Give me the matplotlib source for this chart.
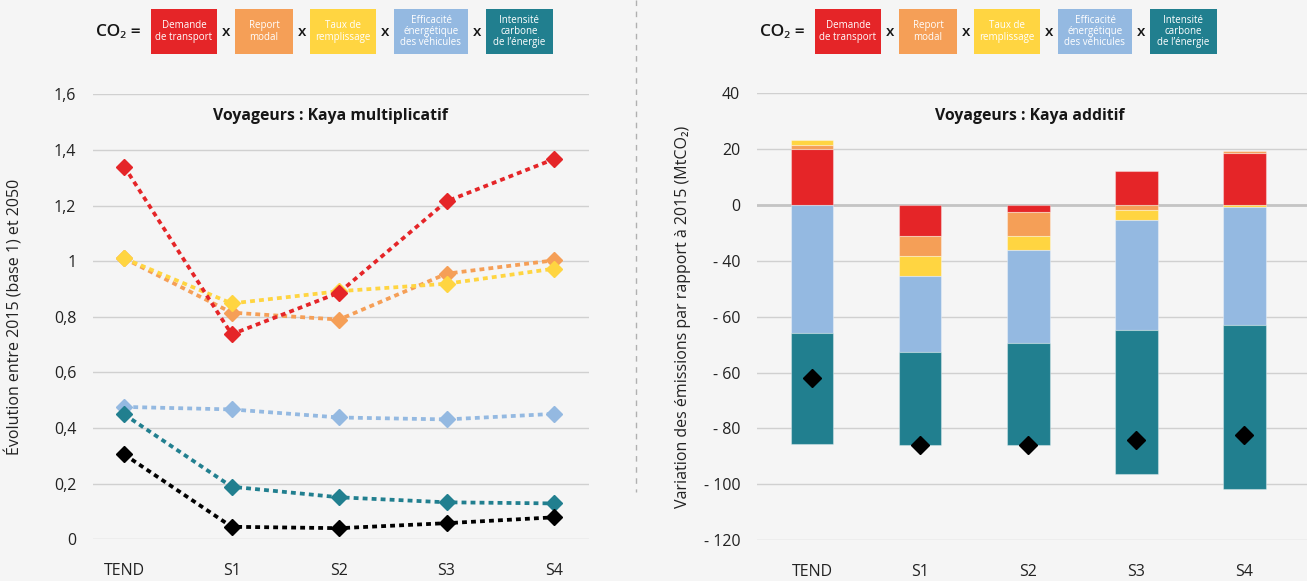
import matplotlib as mpl
import matplotlib.pyplot as plt
import numpy as np
from matplotlib.patches import Rectangle
from matplotlib.lines import Line2D

mpl.rcParams.update({
    'font.family': ['Open Sans', 'Noto Sans', 'DejaVu Sans'],
    'font.size': 11,
    'text.color': '#222222',
    'xtick.color': '#222222',
    'ytick.color': '#222222',
    'figure.facecolor': '#f5f5f5',
    'axes.facecolor': '#f5f5f5',
})

W, H = 1307, 581
BG = '#f5f5f5'
GRID = '#d0d0d0'

# ---- data -----------------------------------------------------------------
SCENARIOS = ['TEND', 'S1', 'S2', 'S3', 'S4']
FACTORS = ['Demande\nde transport', 'Report\nmodal', 'Taux de\nremplissage',
           'Efficacité\nénergétique\ndes véhicules', 'Intensité\ncarbone\nde l’énergie']
COLORS = ['#e52528', '#f59f57', '#ffd541', '#94b9e1', '#217f8f']

# multiplicative Kaya (2015 = 1)
MUL_DEMANDE = [1.34, 0.737, 0.887, 1.215, 1.367]
MUL_REPORT = [1.01, 0.815, 0.790, 0.955, 1.003]
MUL_REMPL = [1.01, 0.848, 0.892, 0.919, 0.973]
MUL_EFFIC = [0.476, 0.467, 0.438, 0.431, 0.451]
MUL_CARBONE = [0.449, 0.189, 0.151, 0.133, 0.129]
MUL_TOTAL = [0.305, 0.045, 0.040, 0.058, 0.079]

# additive Kaya (MtCO2 vs 2015)
ADD_DEMANDE = [20.2, -11.2, -2.5, 12.1, 18.5]
ADD_REPORT = [1.5, -7.2, -8.7, -1.9, 1.0]
ADD_REMPL = [1.7, -7.1, -4.8, -3.4, -0.6]
ADD_EFFIC = [-45.9, -27.0, -33.4, -39.4, -42.3]
ADD_CARBONE = [-39.6, -33.3, -36.6, -51.6, -58.8]
ADD_TOTAL = [-62.1, -85.9, -86.1, -84.3, -82.5]

LEFT_YTICKS = [0, 0.2, 0.4, 0.6, 0.8, 1.0, 1.2, 1.4, 1.6]
LEFT_YLABELS = ['0', '0,2', '0,4', '0,6', '0,8', '1', '1,2', '1,4', '1,6']
RIGHT_YTICKS = [40, 20, 0, -20, -40, -60, -80, -100, -120]
RIGHT_YLABELS = ['40', '20', '0', '- 40', '- 60', '- 60', '- 80', '- 100', '- 120']


def px(x, y):
    return x / W, 1 - y / H


def ax_rect(x0, y0, x1, y1):
    return [x0 / W, 1 - y1 / H, (x1 - x0) / W, (y1 - y0) / H]


def style_axes(ax):
    for s in ax.spines.values():
        s.set_visible(False)
    ax.tick_params(axis='both', length=0, labelsize=11.5)
    ax.tick_params(axis='y', pad=12)
    ax.tick_params(axis='x', pad=17)
    ax.grid(axis='y', color=GRID, lw=1.0, zorder=0)
    ax.set_axisbelow(True)


def header(x_off):
    boxes = [(151, 217), (235, 293), (310, 376), (394, 468), (486, 553)]
    fig.text(*px(118 + x_off, 32), 'CO₂ =', ha='center', va='center',
             fontsize=12.5, fontweight='semibold', color='#161616')
    for i, ((a, b), lab, c) in enumerate(zip(boxes, FACTORS, COLORS)):
        a += x_off; b += x_off
        x0, y0 = px(a, 53.7)
        fig.add_artist(Rectangle((x0, y0), (b - a) / W, 44.7 / H,
                                 transform=fig.transFigure, fc=c, ec='none'))
        fig.text(*px((a + b) / 2, 31.5), lab, ha='center', va='center',
                 fontsize=7, color='white', linespacing=1.05)
        if i < 4:
            nxt = boxes[i + 1][0] + x_off
            fig.text(*px((b + nxt) / 2, 32), 'x', ha='center', va='center',
                     fontsize=11, fontweight='semibold', color='#161616')


fig = plt.figure(figsize=(W / 100, H / 100), dpi=100)

# ---- left: multiplicative -------------------------------------------------
ax1 = fig.add_axes(ax_rect(93, 94.3, 589, 539.3))
style_axes(ax1)
x = np.arange(len(SCENARIOS))
ls = (0, (1.3, 1.1))
series = [(MUL_REPORT, COLORS[1]), (MUL_REMPL, COLORS[2]), (MUL_DEMANDE, COLORS[0]),
          (MUL_EFFIC, COLORS[3]), (MUL_CARBONE, COLORS[4]), (MUL_TOTAL, 'black')]
for vals, c in series:
    ax1.plot(x, vals, color=c, ls=ls, lw=2.7, dash_capstyle='butt',
             marker='D', ms=8.5, mec=c, mfc=c, zorder=3)
ax1.set_xlim(-0.291, 4.326)
ax1.set_ylim(0, 1.6)
ax1.set_yticks(LEFT_YTICKS)
ax1.set_yticklabels(LEFT_YLABELS)
ax1.set_xticks(x)
ax1.set_xticklabels(SCENARIOS)
fig.text(*px(330, 116), 'Voyageurs : Kaya multiplicatif', ha='center', va='center',
         fontsize=11.3, fontweight='bold', color='#161616')
fig.text(*px(15, 316.7), 'Évolution entre 2015 (base 1) et 2050', rotation=90,
         ha='center', va='center', fontsize=11.5)

# ---- right: additive ------------------------------------------------------
ax2 = fig.add_axes(ax_rect(757, 93.5, 1307, 540))
style_axes(ax2)
add = [ADD_DEMANDE, ADD_REPORT, ADD_REMPL, ADD_EFFIC, ADD_CARBONE]
pos = np.zeros(len(SCENARIOS))
neg = np.zeros(len(SCENARIOS))
for vals, c in zip(add, COLORS):
    v = np.array(vals)
    bottom = np.where(v >= 0, pos, neg)
    ax2.bar(x, v, 0.395, bottom=bottom, color=c,
            edgecolor=(1, 1, 1, 0.35), lw=0.8, zorder=2)
    pos += np.clip(v, 0, None)
    neg += np.clip(v, None, 0)
ax2.plot(x, ADD_TOTAL, ls='none', marker='D', ms=9, color='black', zorder=4)
ax2.axhline(0, color='#c4c4c4', lw=2.0, zorder=1)
ax2.set_xlim(-0.509, 4.58)
ax2.set_ylim(-120, 40)
ax2.set_yticks(RIGHT_YTICKS)
ax2.set_yticklabels(RIGHT_YLABELS)
ax2.set_xticks(x)
ax2.set_xticklabels(SCENARIOS)
fig.text(*px(1030, 116), 'Voyageurs : Kaya additif', ha='center', va='center',
         fontsize=11.3, fontweight='bold', color='#161616')
fig.text(*px(683, 316.7), 'Variation des émissions par rapport à 2015 (MtCO₂)',
         rotation=90, ha='center', va='center', fontsize=11.5)

# ---- headers and separator -----------------------------------------------
header(0)
header(664)
fig.add_artist(Line2D([636 / W, 636 / W], [1, 1 - 492 / H], transform=fig.transFigure,
                      color='#b0b0b0', lw=1.0, ls=(0, (4, 4))))

fig.savefig('out.png', dpi=100, facecolor=BG)
